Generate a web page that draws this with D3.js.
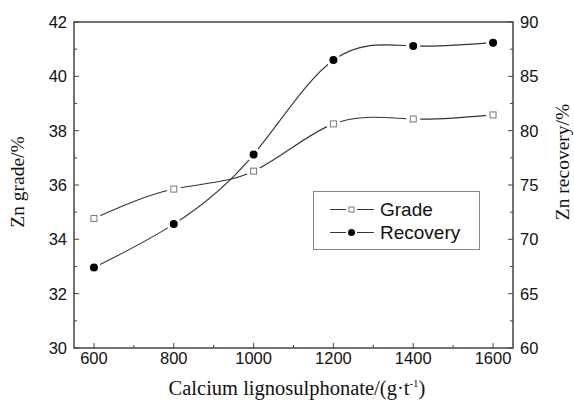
<!DOCTYPE html>
<html>
<head>
<meta charset="utf-8">
<script src="https://cdn.jsdelivr.net/npm/d3@7"></script>
<style>
  body { margin: 0; background: #fff; }
  svg text { fill: #111; }
</style>
</head>
<body>
<svg id="chart" width="574" height="403"></svg>
<script>
var dosage = [600, 800, 1000, 1200, 1400, 1600];
var grade = [34.77, 35.85, 36.51, 38.25, 38.43, 38.58];
var recovery = [67.4, 71.4, 77.8, 86.5, 87.8, 88.1];
var xTicks = [600, 800, 1000, 1200, 1400, 1600];
var gradeTicks = [30, 32, 34, 36, 38, 40, 42];
var recTicks = [60, 65, 70, 75, 80, 85, 90];

var margins = {left: 74, right: 61, top: 22, bottom: 55};
var svg = d3.select('#chart');
var W = 574, H = 403;
var x0 = margins.left, x1 = W - margins.right;
var y0 = H - margins.bottom, y1 = margins.top;

var x = d3.scaleLinear().domain([550, 1650]).range([x0, x1]);
var yL = d3.scaleLinear().domain([30, 42]).range([y0, y1]);
var yR = d3.scaleLinear().domain([60, 90]).range([y0, y1]);

var axisColor = '#444';

// frame
svg.append('rect')
    .attr('x', x0).attr('y', y1)
    .attr('width', x1 - x0).attr('height', y0 - y1)
    .attr('fill', 'none').attr('stroke', axisColor).attr('stroke-width', 1.5);

var g = svg.append('g');

// minor + major ticks (inward)
function tickMarks(vals, len, fn) {
    vals.forEach(function(v) { fn(v, len); });
}
var xMinor = d3.range(700, 1600, 200);
tickMarks(xTicks, 5, function(v, l) {
    g.append('line').attr('x1', x(v)).attr('x2', x(v)).attr('y1', y0).attr('y2', y0 - l)
        .attr('stroke', axisColor);
});
tickMarks(xMinor, 3, function(v, l) {
    g.append('line').attr('x1', x(v)).attr('x2', x(v)).attr('y1', y0).attr('y2', y0 - l)
        .attr('stroke', axisColor);
});
var lMinor = d3.range(31, 42, 2);
tickMarks(gradeTicks, 5, function(v, l) {
    g.append('line').attr('x1', x0).attr('x2', x0 + l).attr('y1', yL(v)).attr('y2', yL(v)).attr('stroke', axisColor);
});
tickMarks(lMinor, 3, function(v, l) {
    g.append('line').attr('x1', x0).attr('x2', x0 + l).attr('y1', yL(v)).attr('y2', yL(v)).attr('stroke', axisColor);
});
var rMinor = d3.range(62.5, 90, 5);
tickMarks(recTicks, 5, function(v, l) {
    g.append('line').attr('x1', x1).attr('x2', x1 - l).attr('y1', yR(v)).attr('y2', yR(v)).attr('stroke', axisColor);
});
tickMarks(rMinor, 3, function(v, l) {
    g.append('line').attr('x1', x1).attr('x2', x1 - l).attr('y1', yR(v)).attr('y2', yR(v)).attr('stroke', axisColor);
});

// tick labels
var tickFont = 'Liberation Sans, Arial, sans-serif';
g.selectAll('.xl').data(xTicks).enter().append('text')
    .attr('x', function(d) { return x(d); }).attr('y', 364)
    .attr('text-anchor', 'middle').style('font-family', tickFont).style('font-size', '16.5px')
    .text(function(d) { return d; });
g.selectAll('.ll').data(gradeTicks).enter().append('text')
    .attr('x', 67).attr('y', function(d) { return yL(d) + 6; })
    .attr('text-anchor', 'end').style('font-family', tickFont).style('font-size', '16.5px')
    .text(function(d) { return d; });
g.selectAll('.rl').data(recTicks).enter().append('text')
    .attr('x', 520).attr('y', function(d) { return yR(d) + 6; })
    .attr('text-anchor', 'start').style('font-family', tickFont).style('font-size', '16.5px')
    .text(function(d) { return d; });

// axis titles
var titleFont = 'Liberation Serif, Times New Roman, serif';
var xt = svg.append('text').attr('x', 297).attr('y', 395).attr('text-anchor', 'middle')
    .style('font-family', titleFont).style('font-size', '20.5px');
xt.append('tspan').text('Calcium lignosulphonate/(g·t');
xt.append('tspan').attr('dy', -8).style('font-size', '11px').text('-1');
xt.append('tspan').attr('dy', 8).text(')');

svg.append('text').attr('transform', 'translate(24,182) rotate(-90)').attr('text-anchor', 'middle')
    .style('font-family', titleFont).style('font-size', '19.5px').text('Zn grade/%');
svg.append('text').attr('transform', 'translate(569,162) rotate(-90)').attr('text-anchor', 'middle')
    .style('font-family', titleFont).style('font-size', '19.5px').text('Zn recovery/%');

// curves
var lineL = d3.line().x(function(d, i) { return x(dosage[i]); }).y(function(d) { return yL(d); })
    .curve(d3.curveNatural);
var lineR = d3.line().x(function(d, i) { return x(dosage[i]); }).y(function(d) { return yR(d); })
    .curve(d3.curveNatural);

svg.append('path').datum(grade).attr('d', lineL).attr('fill', 'none').attr('stroke', '#333').attr('stroke-width', 1.1);
svg.append('path').datum(recovery).attr('d', lineR).attr('fill', 'none').attr('stroke', '#333').attr('stroke-width', 1.1);

// marker gaps
svg.selectAll('.gapL').data(grade).enter().append('circle')
    .attr('cx', function(d, i) { return x(dosage[i]); }).attr('cy', function(d) { return yL(d); })
    .attr('r', 7).attr('fill', '#fff');
svg.selectAll('.gapR').data(recovery).enter().append('circle')
    .attr('cx', function(d, i) { return x(dosage[i]); }).attr('cy', function(d) { return yR(d); })
    .attr('r', 7).attr('fill', '#fff');

svg.selectAll('.sq').data(grade).enter().append('rect')
    .attr('x', function(d, i) { return x(dosage[i]) - 3; }).attr('y', function(d) { return yL(d) - 3; })
    .attr('width', 6).attr('height', 6)
    .attr('fill', '#fff').attr('stroke', '#777').attr('stroke-width', 1);
svg.selectAll('.dot').data(recovery).enter().append('circle')
    .attr('cx', function(d, i) { return x(dosage[i]); }).attr('cy', function(d) { return yR(d); })
    .attr('r', 4).attr('fill', '#000');

// legend
var lg = svg.append('g');
lg.append('rect').attr('x', 313.5).attr('y', 191.5).attr('width', 166).attr('height', 58)
    .attr('fill', '#fff').attr('stroke', '#888');
var legendItems = ['Grade', 'Recovery'];
legendItems.forEach(function(name, i) {
    var cy = 209.5 + i * 23;
    lg.append('line').attr('x1', 330).attr('x2', 346).attr('y1', cy).attr('y2', cy).attr('stroke', '#333');
    lg.append('line').attr('x1', 357).attr('x2', 374).attr('y1', cy).attr('y2', cy).attr('stroke', '#333');
    if (i === 0) {
        lg.append('rect').attr('x', 349).attr('y', cy - 2.5).attr('width', 5).attr('height', 5)
            .attr('fill', '#fff').attr('stroke', '#777');
    } else {
        lg.append('circle').attr('cx', 351.5).attr('cy', cy).attr('r', 3.5).attr('fill', '#000');
    }
    lg.append('text').attr('x', 380).attr('y', cy + 6.5).style('font-family', tickFont).style('font-size', '19px')
        .text(name);
});
</script>
</body>
</html>
